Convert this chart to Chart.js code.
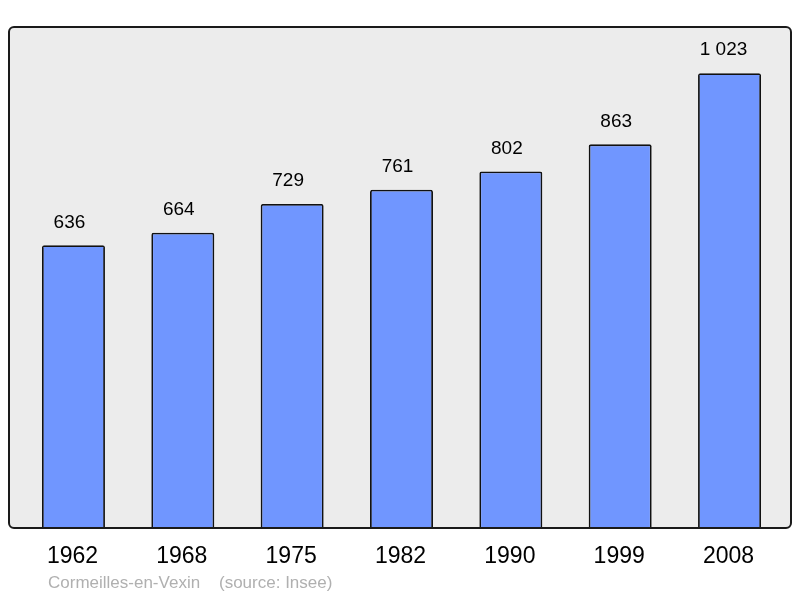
<!DOCTYPE html>
<html>
<head>
<meta charset="utf-8">
<script src="https://cdn.jsdelivr.net/npm/chart.js@4/dist/chart.umd.min.js"></script>
<style>
  html, body { margin: 0; padding: 0; background: #ffffff; }
  #wrap { width: 800px; height: 598px; position: relative; }
</style>
</head>
<body>
<div id="wrap"><canvas id="chart"></canvas></div>
<script>
const years = ['1962', '1968', '1975', '1982', '1990', '1999', '2008'];
const population = [636, 664, 729, 761, 802, 863, 1023];
const valueLabels = ['636', '664', '729', '761', '802', '863', '1 023'];
const sourceName = 'Cormeilles-en-Vexin';
const sourceRef = '(source: Insee)';

// gray frame behind the bars, labels above bars and years below
const decorations = {
  id: 'decorations',
  beforeDatasetsDraw(chart) {
    const ctx = chart.ctx;
    ctx.save();
    ctx.fillStyle = '#ececec';
    ctx.beginPath();
    ctx.roundRect(9, 27, 782, 501, 5);
    ctx.fill();
    ctx.restore();
  },
  afterDatasetsDraw(chart) {
    const ctx = chart.ctx;
    const x = chart.scales.x;
    const y = chart.scales.y;
    ctx.save();
    ctx.strokeStyle = '#1a1a1a';
    ctx.lineWidth = 2;
    ctx.beginPath();
    ctx.roundRect(9, 27, 782, 501, 5);
    ctx.stroke();

    ctx.fillStyle = '#000000';
    ctx.textAlign = 'center';
    ctx.textBaseline = 'middle';
    ctx.font = '19px "Liberation Sans", Arial, sans-serif';
    population.forEach((v, i) => {
      const shift = valueLabels[i].length > 3 ? 6 : 4;
      ctx.fillText(valueLabels[i], x.getPixelForValue(i) - shift, y.getPixelForValue(v) - 23);
    });
    ctx.font = '23px "Liberation Sans", Arial, sans-serif';
    years.forEach((yr, i) => {
      ctx.fillText(yr, x.getPixelForValue(i) - 1, 557);
    });
    ctx.fillStyle = '#b0b0b0';
    ctx.textAlign = 'left';
    ctx.font = '17px "Liberation Sans", Arial, sans-serif';
    ctx.fillText(sourceName, 48, 583);
    ctx.fillText(sourceRef, 219, 583);
    ctx.restore();
  }
};

new Chart(document.getElementById('chart'), {
  type: 'bar',
  data: {
    labels: years,
    datasets: [{
      data: population,
      backgroundColor: '#7096ff',
      borderColor: '#111111',
      borderWidth: 1.8,
      borderRadius: 2,
      borderSkipped: 'bottom',
      barPercentage: 0.576,
      categoryPercentage: 1
    }]
  },
  options: {
    responsive: true,
    maintainAspectRatio: false,
    animation: false,
    layout: { padding: { left: 18.8, right: 15.8, top: 27, bottom: 70 } },
    scales: {
      x: { display: false },
      y: { display: false, min: 0, max: 1127 }
    },
    plugins: {
      legend: { display: false },
      tooltip: { enabled: false }
    }
  },
  plugins: [decorations]
});
</script>
</body>
</html>
